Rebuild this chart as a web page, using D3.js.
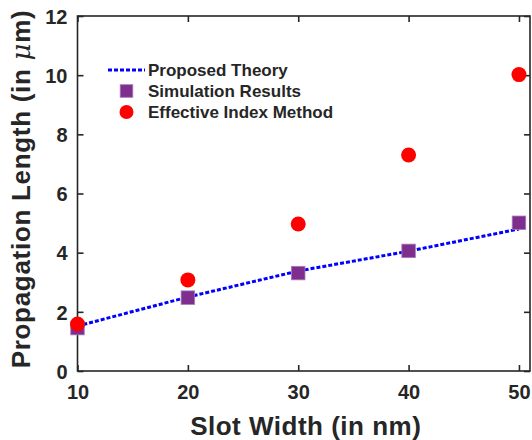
<!DOCTYPE html>
<html><head><meta charset="utf-8">
<script src="https://cdn.jsdelivr.net/npm/d3@7"></script>
<style>body{margin:0;background:#fff}svg{display:block}</style>
</head><body>
<svg id="c" width="532" height="440"></svg>
<script>
const slotWidths = [10, 20, 30, 40, 50];
const theoryValues = [1.52, 2.5, 3.38, 4.05, 4.8];
const simulationValues = [1.45, 2.48, 3.31, 4.06, 5.01];
const eimValues = [1.59, 3.08, 4.97, 7.3, 10.02];
const xTicks = [10, 20, 30, 40, 50];
const yTicks = [0, 2, 4, 6, 8, 10, 12];
const legendLabels = ["Proposed Theory", "Simulation Results", "Effective Index Method"];

const svg = d3.select("#c");
const L = 77.5, R = 530, T = 16, B = 371;
const ink = "#262626";
const font = "'Liberation Sans', Arial, sans-serif";
const x = d3.scaleLinear().domain([10, 51]).range([L, R]);
const y = d3.scaleLinear().domain([0, 12]).range([B, T]);

// frame
svg.append("rect").attr("x", L).attr("y", T).attr("width", R - L).attr("height", B - T)
  .attr("fill", "none").attr("stroke", ink).attr("stroke-width", 1.6);

const tk = 6;
const gx = svg.append("g").attr("transform", `translate(0,${B})`)
  .call(d3.axisBottom(x).tickValues(xTicks).tickSize(-tk).tickPadding(14));
const gxt = svg.append("g").attr("transform", `translate(0,${T})`)
  .call(d3.axisTop(x).tickValues(xTicks).tickSize(-tk).tickFormat(""));
const gy = svg.append("g").attr("transform", `translate(${L},0)`)
  .call(d3.axisLeft(y).tickValues(yTicks).tickSize(-tk).tickPadding(10));
const gyr = svg.append("g").attr("transform", `translate(${R},0)`)
  .call(d3.axisRight(y).tickValues(yTicks).tickSize(-tk).tickFormat(""));
[gx, gxt, gy, gyr].forEach(g => {
  g.select(".domain").remove();
  g.selectAll(".tick line").attr("stroke", ink).attr("stroke-width", 1.6);
  g.selectAll(".tick text").attr("fill", ink).attr("font-family", font)
    .attr("font-weight", "bold").attr("font-size", 20);
});
gy.selectAll(".tick text").attr("dy", "0.36em");

// theory line
const line = d3.line().x((d, i) => x(slotWidths[i])).y(d => y(d));
svg.append("path").datum(theoryValues).attr("d", line)
  .attr("fill", "none").attr("stroke", "#0000ff").attr("stroke-width", 3)
  .attr("stroke-dasharray", "4,2");

// squares
const sq = 13.5;
svg.selectAll(".sq").data(simulationValues).enter().append("rect")
  .attr("x", (d, i) => x(slotWidths[i]) - sq / 2).attr("y", d => y(d) - sq / 2)
  .attr("width", sq).attr("height", sq)
  .attr("fill", "#7E2F8E").attr("stroke", "#a878b8").attr("stroke-width", 0.8);

// circles
svg.selectAll(".ci").data(eimValues).enter().append("circle")
  .attr("cx", (d, i) => x(slotWidths[i])).attr("cy", d => y(d)).attr("r", 7.5)
  .attr("fill", "#ff0000");

// axis titles
svg.append("text").attr("x", (L + R) / 2 + 2).attr("y", 435).attr("text-anchor", "middle")
  .attr("fill", ink).attr("font-family", font).attr("font-weight", "bold").attr("font-size", 26)
  .attr("letter-spacing", 0.5)
  .text("Slot Width (in nm)");
const yt = svg.append("text").attr("transform", "translate(30,189) rotate(-90)")
  .attr("text-anchor", "middle").attr("fill", ink).attr("font-family", font)
  .attr("font-weight", "bold").attr("font-size", 26).attr("letter-spacing", 0.7);
yt.append("tspan").text("Propagation Length (in ");
yt.append("tspan").attr("font-style", "italic").attr("font-weight", "normal")
  .attr("font-family", "'DejaVu Serif', serif").text("\u03bc");
yt.append("tspan").text("m)");

// legend
const lg = svg.append("g");
const rows = [75.5, 96.5, 117.5];
lg.append("line").attr("x1", 108).attr("x2", 145).attr("y1", rows[0] - 5.5).attr("y2", rows[0] - 5.5)
  .attr("stroke", "#0000ff").attr("stroke-width", 3).attr("stroke-dasharray", "4,2");
lg.append("rect").attr("x", 126.5 - 6.3).attr("y", rows[1] - 5.5 - 6.3).attr("width", 12.6).attr("height", 12.6)
  .attr("fill", "#7E2F8E").attr("stroke", "#a878b8").attr("stroke-width", 0.8);
lg.append("circle").attr("cx", 126.5).attr("cy", rows[2] - 5.5).attr("r", 7)
  .attr("fill", "#ff0000");
lg.selectAll(".lt").data(legendLabels).enter().append("text")
  .attr("x", 148).attr("y", (d, i) => rows[i]).attr("fill", ink)
  .attr("font-family", font).attr("font-weight", "bold").attr("font-size", 17).text(d => d);
</script>
</body></html>
